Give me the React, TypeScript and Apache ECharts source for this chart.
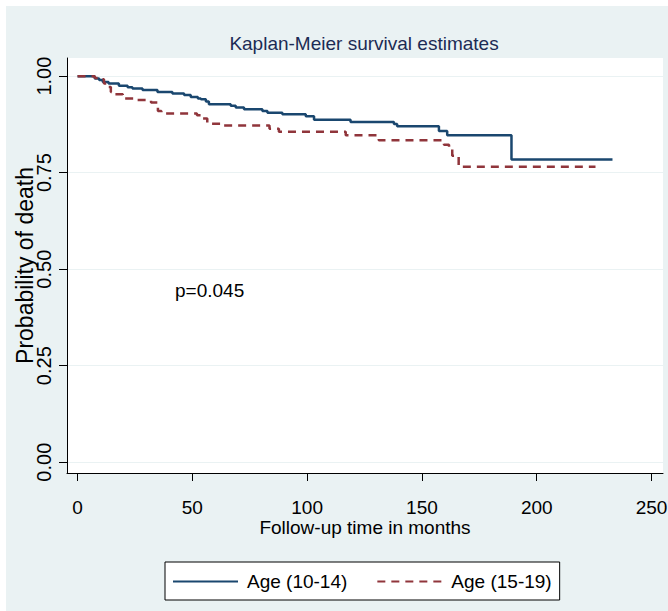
import React, { useEffect, useRef } from "react";
import * as echarts from "echarts";

const titleText = "Kaplan-Meier survival estimates";
const xAxisTitle = "Follow-up time in months";
const yAxisTitle = "Probability of death";
const annotation = "p=0.045";

const xTicks = [0, 50, 100, 150, 200, 250];
const yTicks = [0, 0.25, 0.5, 0.75, 1.0];

const seriesNames = ["Age (10-14)", "Age (15-19)"];

const blueTime = [0, 7.5, 9.4, 11, 13.5, 18, 21.8, 23.9, 28.3, 34.8, 41.3, 46.4, 49.3, 52.4, 53.7, 55.9, 57.2, 66.7, 68.9, 72.5, 80.5, 82.7, 89.2, 99.4, 103, 118.9, 137.8, 139.2, 157.4, 161, 189, 233];
const blueSurv = [1.0, 0.994, 0.99, 0.985, 0.981, 0.975, 0.971, 0.968, 0.964, 0.959, 0.955, 0.951, 0.946, 0.942, 0.94, 0.934, 0.927, 0.923, 0.919, 0.914, 0.91, 0.905, 0.901, 0.896, 0.887, 0.881, 0.876, 0.87, 0.858, 0.847, 0.784, 0.784];

const redTime = [0, 7.5, 10.2, 11.5, 13, 14.5, 15.2, 19.7, 25.4, 32, 35, 36.5, 52, 53.7, 56.5, 63.8, 83.6, 87.7, 116.8, 131.2, 159.6, 161.8, 163.2, 166, 225.6];
const redSurv = [1.0, 0.995, 0.992, 0.981, 0.972, 0.959, 0.953, 0.942, 0.938, 0.932, 0.91, 0.903, 0.899, 0.89, 0.877, 0.872, 0.864, 0.856, 0.847, 0.834, 0.822, 0.812, 0.794, 0.765, 0.765];

const FONT = "'Liberation Sans', Arial, sans-serif";

export default function App() {
  const ref = useRef<HTMLDivElement>(null);

  useEffect(() => {
    if (!ref.current) return;
    const chart = echarts.init(ref.current, undefined, { renderer: "svg" });
    const zip = (t: number[], s: number[]) => t.map((v, i) => [v, s[i]]);
    chart.setOption({
      animation: false,
      backgroundColor: "#ffffff",
      graphic: [
        {
          type: "rect",
          z: -100,
          shape: { x: 6, y: 6, width: 662, height: 605 },
          style: { fill: "#eaf2f3" },
          silent: true,
        },
        {
          type: "text",
          left: 175,
          top: 281,
          style: {
            text: annotation,
            font: `19px ${FONT}`,
            fill: "#000",
          },
        },
      ],
      title: {
        text: titleText,
        left: 364,
        top: 34,
        textAlign: "center",
        padding: 0,
        textStyle: {
          fontFamily: FONT,
          fontSize: 19,
          fontWeight: "normal",
          color: "#1c2b55",
        },
      },
      grid: {
        left: 67,
        right: 5,
        top: 58,
        bottom: 138,
        show: true,
        backgroundColor: "#ffffff",
        borderWidth: 0,
        containLabel: false,
        outerBoundsMode: "none",
      },
      xAxis: {
        type: "value",
        min: -4.6,
        max: 255,
        name: xAxisTitle,
        nameLocation: "middle",
        nameGap: 45,
        nameMoveOverlap: false,
        nameTextStyle: { fontFamily: FONT, fontSize: 19, color: "#000" },
        axisLine: { show: true, onZero: false, lineStyle: { color: "#000", width: 1 } },
        axisTick: { show: true, length: 8, customValues: xTicks, lineStyle: { color: "#000" } },
        axisLabel: {
          customValues: xTicks,
          margin: 25,
          fontFamily: FONT,
          fontSize: 19,
          color: "#000",
        },
        splitLine: { show: false },
      },
      yAxis: {
        type: "value",
        min: -0.028,
        max: 1.047,
        name: yAxisTitle,
        nameLocation: "middle",
        nameRotate: 90,
        nameGap: 31,
        nameMoveOverlap: false,
        nameTextStyle: { fontFamily: FONT, fontSize: 23, color: "#000" },
        axisLine: { show: true, onZero: false, lineStyle: { color: "#000", width: 1 } },
        axisTick: { show: true, length: 8, customValues: yTicks, lineStyle: { color: "#000" } },
        axisLabel: {
          customValues: yTicks,
          rotate: 90,
          margin: 13,
          fontFamily: FONT,
          fontSize: 20,
          color: "#000",
          formatter: (v: number) => v.toFixed(2),
        },
        splitLine: { show: true, lineStyle: { color: "#eaf2f3", width: 1 } },
      },
      legend: {
        left: 165,
        top: 562,
        orient: "horizontal",
        backgroundColor: "#ffffff",
        borderColor: "#000",
        borderWidth: 1,
        borderRadius: 0,
        padding: [10, 8, 9, 7],
        itemWidth: 65,
        itemHeight: 14,
        itemGap: 29,
        itemStyle: { opacity: 0 },
        textStyle: { fontFamily: FONT, fontSize: 19, color: "#000", padding: [0, 0, 0, 4] },
        data: seriesNames,
      },
      series: [
        {
          name: seriesNames[0],
          type: "line",
          step: "end",
          symbol: "none",
          data: zip(blueTime, blueSurv),
          color: "#1a476f",
          lineStyle: { color: "#1a476f", width: 2.5, type: "solid" },
        },
        {
          name: seriesNames[1],
          type: "line",
          step: "end",
          symbol: "none",
          data: zip(redTime, redSurv),
          color: "#90353b",
          lineStyle: { color: "#90353b", width: 2.5, type: [8, 6] },
        },
      ],
    });
    return () => chart.dispose();
  }, []);

  return (
    <div style={{ position: "fixed", left: 0, top: 0, width: 668, height: 611, background: "#fff" }}>
      <div ref={ref} style={{ width: 668, height: 611 }} />
    </div>
  );
}
